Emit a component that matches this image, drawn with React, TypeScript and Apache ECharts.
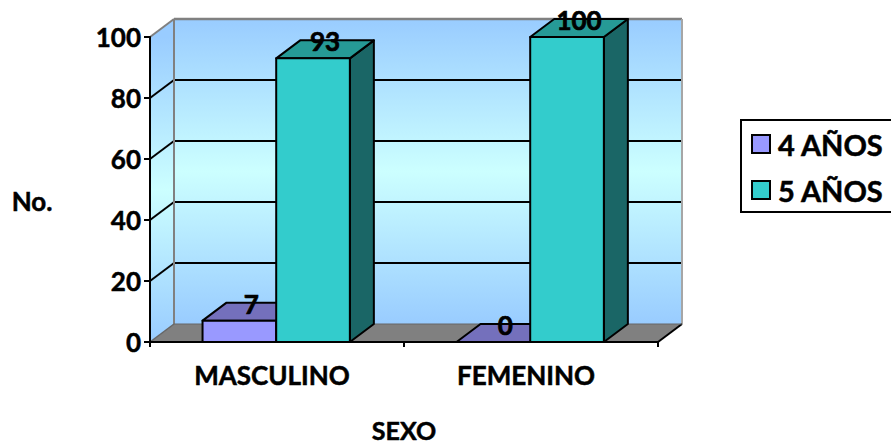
import React, { useEffect, useRef } from "react";
import * as echarts from "echarts";

const categories = ["MASCULINO", "FEMENINO"];
const seriesNames = ["4 AÑOS", "5 AÑOS"];
const values4 = [7, 0];
const values5 = [93, 100];
const yTicks = [0, 20, 40, 60, 80, 100];

const FONT = "Lato, Carlito, Calibri, sans-serif";
const DX = 24; // oblique depth of the 3D box
const DY = -18;
const BAR_SHARE = 0.29; // width of one bar as a share of the category band
const BAR_NUDGE = -0.8; // pixel snap of the bar pair around the band centre
const palette = [
  { front: "#9999FF", top: "#7470BC", side: "#7470BC" },
  { front: "#33CCCC", top: "#269A96", side: "#1A6666" },
];

const wallFill = (y0: number, y1: number) => ({
  type: "linear",
  global: true,
  x: 0,
  y: y0,
  x2: 0,
  y2: y1,
  colorStops: [
    { offset: 0, color: "#99CCFF" },
    { offset: 0.5, color: "#CCFFFF" },
    { offset: 1, color: "#99CCFF" },
  ],
});

// Back wall, side wall, floor and the wrap-around gridlines
const renderWalls = (params: any, api: any) => {
  const { x, width } = params.coordSys;
  const r = x + width;
  const yOf = (v: number) => api.coord([0, v])[1];
  const top = yOf(100);
  const bot = yOf(0);
  const poly = (points: number[][], style: any) => ({ type: "polygon", shape: { points }, style });
  const seg = (x1: number, y1: number, x2: number, y2: number, stroke: string, lineWidth: number) => ({
    type: "line",
    shape: { x1, y1, x2, y2 },
    style: { stroke, lineWidth },
  });
  const children: any[] = [
    poly([[x + DX, top + DY], [r + DX, top + DY], [r + DX, bot + DY], [x + DX, bot + DY]], { fill: wallFill(top + DY, bot + DY) }),
    poly([[x, top], [x + DX, top + DY], [x + DX, bot + DY], [x, bot]], { fill: wallFill(top, bot) }),
    poly([[x, bot], [r, bot], [r + DX, bot + DY], [x + DX, bot + DY]], { fill: "#808080" }),
  ];
  yTicks.slice(1, -1).forEach((t) => {
    const y = yOf(t);
    children.push(seg(x, y, x + DX, y + DY, "#000", 2));
    children.push(seg(x + DX, y + DY, r + DX, y + DY, "#000", 2));
  });
  children.push(seg(x, top, x + DX, top + DY, "#808080", 2));
  children.push(seg(x + DX, top + DY, r + DX, top + DY, "#808080", 2.5));
  children.push(seg(x + DX, top + DY, x + DX, bot + DY, "#808080", 2));
  children.push(seg(r + DX, top + DY, r + DX, bot + DY, "#A6A6A6", 2));
  children.push(seg(x, bot, x + DX, bot + DY, "#666", 1.5));
  children.push(seg(r, bot, r + DX, bot + DY, "#000", 2));
  children.push(seg(x + DX, bot + DY, r + DX, bot + DY, "#666", 1));
  return { type: "group", children };
};

// One oblique box per category; the value label sits on its top face
const renderBox = (seriesIndex: number) => (_params: any, api: any) => {
  const cat = api.value(0);
  const val = api.value(1);
  const [cx, y1] = api.coord([cat, val]);
  const y0 = api.coord([cat, 0])[1];
  const w = api.size([1, 0])[0] * BAR_SHARE;
  const x0 = (seriesIndex === 0 ? cx - w : cx) + BAR_NUDGE;
  const x1 = x0 + w;
  const c = palette[seriesIndex];
  const edge = { stroke: "#000", lineWidth: 2, lineJoin: "round" };
  const children: any[] = [];
  children.push({
    type: "polygon",
    shape: { points: [[x1, y1], [x1 + DX, y1 + DY], [x1 + DX, y0 + DY], [x1, y0]] },
    style: { fill: c.side, ...edge },
  });
  children.push({
    type: "polygon",
    shape: { points: [[x0, y1], [x0 + DX, y1 + DY], [x1 + DX, y1 + DY], [x1, y1]] },
    style: { fill: c.top, ...edge },
  });
  children.push({
    type: "rect",
    shape: { x: x0, y: y1, width: w, height: y0 - y1 },
    style: { fill: c.front, ...edge },
  });
  children.push({
    type: "text",
    x: (x0 + x1) / 2 + 12,
    y: y1 - 17,
    style: {
      text: String(val),
      fill: "#000",
      fontFamily: FONT,
      fontWeight: "bold",
      fontSize: 26,
      stroke: "#000",
      lineWidth: 0.7,
      align: "center",
      verticalAlign: "middle",
    },
  });
  return { type: "group", children };
};

export default function App() {
  const ref = useRef<HTMLDivElement>(null);
  useEffect(() => {
    const chart = echarts.init(ref.current!, undefined, { renderer: "svg" });
    const axisText = {
      color: "#000",
      fontFamily: FONT,
      fontWeight: "bold" as const,
      textBorderColor: "#000",
      textBorderWidth: 0.5,
    };
    const boxSeries = (i: number, vals: number[]) => ({
      type: "custom",
      name: seriesNames[i],
      renderItem: renderBox(i),
      clip: false,
      z: 3 + i,
      encode: { x: 0, y: 1 },
      itemStyle: { color: palette[i].front, borderColor: "#000", borderWidth: 2 },
      data: vals.map((v, k) => [k, v]),
    });
    chart.setOption({
      animation: false,
      backgroundColor: "#fff",
      grid: { left: 150, right: 233, top: 37, bottom: 101, outerBoundsMode: "none" },
      graphic: [
        {
          type: "text",
          x: 32,
          y: 201,
          style: {
            text: "No.",
            fill: "#000",
            fontFamily: FONT,
            fontWeight: "bold",
            fontSize: 26,
            stroke: "#000",
            lineWidth: 0.5,
            align: "center",
            verticalAlign: "middle",
          },
        },
      ],
      legend: {
        data: seriesNames,
        orient: "vertical",
        left: 741,
        top: 120,
        padding: [7, 12, 5, 10],
        icon: "rect",
        itemWidth: 18,
        itemHeight: 18,
        itemGap: 12,
        borderColor: "#000",
        borderWidth: 2,
        textStyle: { ...axisText, fontSize: 29, lineHeight: 34, padding: [0, 0, 0, 3] },
      },
      xAxis: {
        type: "category",
        data: categories,
        z: 6,
        name: "SEXO",
        nameLocation: "middle",
        nameGap: 76,
        nameTextStyle: { ...axisText, fontSize: 25, lineHeight: 24 },
        axisLine: { lineStyle: { color: "#000", width: 2 } },
        axisTick: { show: true, length: 5, lineStyle: { color: "#000", width: 2 } },
        axisLabel: { ...axisText, margin: 20, padding: [0, 10, 0, 0], fontSize: 26 },
      },
      yAxis: {
        type: "value",
        min: 0,
        max: 100,
        interval: 20,
        z: 6,
        splitLine: { show: false },
        axisLine: { show: true, lineStyle: { color: "#000", width: 2 } },
        axisTick: { show: true, length: 6, lineStyle: { color: "#000", width: 2 } },
        axisLabel: { ...axisText, margin: 9, fontSize: 26 },
      },
      series: [
        {
          type: "custom",
          name: "walls",
          silent: true,
          clip: false,
          z: 1,
          renderItem: renderWalls,
          encode: { x: 0, y: 1 },
          data: [[0, 0]],
        },
        boxSeries(0, values4),
        boxSeries(1, values5),
      ],
    });
    return () => chart.dispose();
  }, []);
  return <div ref={ref} style={{ position: "fixed", left: 0, top: 0, width: 891, height: 443 }} />;
}
